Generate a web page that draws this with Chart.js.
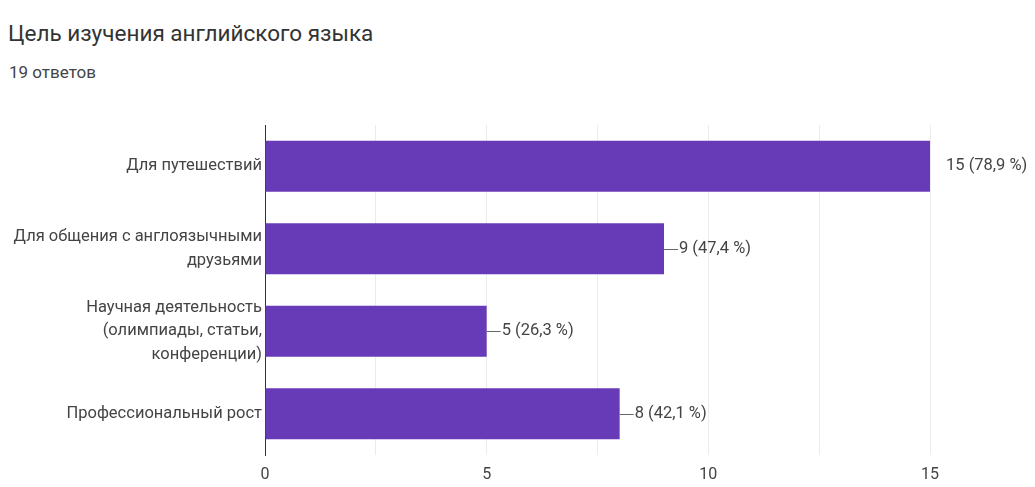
<!DOCTYPE html>
<html>
<head>
<meta charset="utf-8">
<script src="https://cdn.jsdelivr.net/npm/chart.js@4/dist/chart.umd.min.js"></script>
<style>
  body { margin: 0; background: #fff; font-family: Roboto, Arial, sans-serif; }
  #title { position: absolute; left: 8px; top: 19px; font-size: 22.5px; color: #333; line-height: 28px; }
  #sub { position: absolute; left: 9px; top: 61px; font-size: 17px; color: #444; line-height: 22px; }
  #wrap { position: absolute; left: 0; top: 110px; width: 1035px; height: 377px; }
</style>
</head>
<body>
<div id="title">Цель изучения английского языка</div>
<div id="sub">19 ответов</div>
<div id="wrap"><canvas id="c"></canvas></div>
<script>
// данные опроса
const categories = [
  'Для путешествий',
  ['Для общения с англоязычными', 'друзьями'],
  ['Научная деятельность', '(олимпиады, статьи,', 'конференции)'],
  'Профессиональный рост'
];
const counts = [15, 9, 5, 8];
const totalAnswers = 19;
const xTicks = [0, 5, 10, 15];

const FONT = 'Roboto, Arial, sans-serif';

const valueLabels = {
  id: 'valueLabels',
  afterDatasetsDraw(chart) {
    const ctx = chart.ctx;
    const meta = chart.getDatasetMeta(0);
    ctx.save();
    ctx.font = '16.5px ' + FONT;
    ctx.fillStyle = '#444';
    ctx.strokeStyle = '#666';
    ctx.lineWidth = 1;
    ctx.textBaseline = 'middle';
    meta.data.forEach((bar, i) => {
      const v = counts[i];
      const pct = (v / totalAnswers * 100).toFixed(1).replace('.', ',');
      const txt = v + ' (' + pct + ' %)';
      if (v < chart.scales.x.max) {
        ctx.beginPath();
        ctx.moveTo(bar.x, Math.round(bar.y) + 0.5);
        ctx.lineTo(bar.x + 14, Math.round(bar.y) + 0.5);
        ctx.stroke();
        ctx.fillText(txt, bar.x + 15, bar.y);
      } else {
        ctx.fillText(txt, bar.x + 16, bar.y);
      }
    });
    ctx.restore();
  }
};

new Chart(document.getElementById('c'), {
  type: 'bar',
  data: {
    labels: categories,
    datasets: [{
      data: counts,
      backgroundColor: '#673ab7',
      barPercentage: 0.62,
      categoryPercentage: 1
    }]
  },
  options: {
    indexAxis: 'y',
    responsive: true,
    maintainAspectRatio: false,
    animation: false,
    layout: { padding: { left: 0, right: 105, top: 15, bottom: 0 } },
    plugins: {
      legend: { display: false },
      tooltip: { enabled: false }
    },
    scales: {
      x: {
        min: 0,
        max: 15,
        afterBuildTicks(axis) {
          const t = [];
          for (let v = 0; v <= 15; v += 2.5) t.push({ value: v });
          axis.ticks = t;
        },
        afterFit(axis) { axis.height = 32; },
        ticks: {
          color: '#444',
          font: { size: 16, family: FONT },
          padding: 10,
          autoSkip: false,
          maxRotation: 0,
          callback: v => xTicks.includes(v) ? String(v) : ''
        },
        grid: {
          color: ctx => ctx.tick && ctx.tick.value === 0 ? '#333' : '#ebebeb',
          drawTicks: false
        },
        border: { display: false }
      },
      y: {
        afterFit(axis) { axis.width = 265; },
        ticks: {
          color: '#444',
          font: { size: 16.5, family: FONT, lineHeight: 1.42 },
          padding: 3
        },
        grid: { display: false, drawTicks: false },
        border: { display: true, color: '#333', width: 1 }
      }
    }
  },
  plugins: [valueLabels]
});
</script>
</body>
</html>
